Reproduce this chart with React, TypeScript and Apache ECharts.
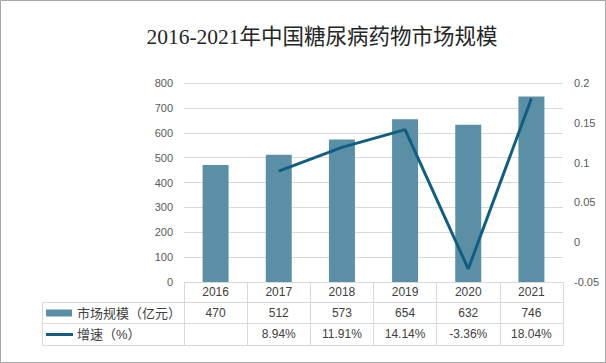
import React, { useEffect, useRef } from "react";
import * as echarts from "echarts";

const titleText = "2016-2021年中国糖尿病药物市场规模";
const years = ["2016", "2017", "2018", "2019", "2020", "2021"];
const marketSize = [470, 512, 573, 654, 632, 746];
const growthPct: (number | null)[] = [null, 8.94, 11.91, 14.14, -3.36, 18.04];
const barName = "市场规模（亿元）";
const lineName = "增速（%）";

const BAR_COLOR = "#5b8fa6";
const LINE_COLOR = "#135e80";
const GRID_COLOR = "#d9d9d9";
const SANS = "'Liberation Sans', 'Noto Sans CJK SC', sans-serif";

export default function App() {
  const ref = useRef<HTMLDivElement>(null);
  useEffect(() => {
    if (!ref.current) return;
    const chart = echarts.init(ref.current, undefined, { renderer: "svg" });
    const W = 606;
    const gridLeft = 184;
    const gridRight = 563;
    const axisY = 282;
    const tableLeft = 42;
    const row1 = 302.5;
    const row2 = 323.5;
    const row3 = 345.5;
    const tableLabel = {
      margin: 4,
      fontSize: 12,
      color: "#404040",
      fontFamily: SANS,
      interval: 0,
    };
    chart.setOption({
      animation: false,
      grid: { left: gridLeft, right: W - gridRight, top: 83, bottom: 363 - axisY },
      xAxis: [
        {
          type: "category",
          data: years,
          position: "bottom",
          axisLine: { show: true, lineStyle: { color: GRID_COLOR, width: 1 } },
          axisTick: { show: true, length: 63, lineStyle: { color: GRID_COLOR } },
          axisLabel: tableLabel,
        },
        {
          type: "category",
          data: marketSize.map((v) => String(v)),
          position: "bottom",
          offset: 21,
          axisLine: { show: false },
          axisTick: { show: false },
          axisLabel: tableLabel,
        },
        {
          type: "category",
          data: growthPct.map((v) => (v == null ? "" : v.toFixed(2) + "%")),
          position: "bottom",
          offset: 42,
          axisLine: { show: false },
          axisTick: { show: false },
          axisLabel: tableLabel,
        },
      ],
      yAxis: [
        {
          type: "value",
          min: 0,
          max: 800,
          interval: 100,
          axisLine: { show: false },
          axisTick: { show: false },
          splitLine: { show: true, lineStyle: { color: GRID_COLOR } },
          axisLabel: { margin: 11, fontSize: 11, color: "#595959", fontFamily: SANS },
        },
        {
          type: "value",
          min: -0.05,
          max: 0.2,
          interval: 0.05,
          position: "right",
          axisLine: { show: false },
          axisTick: { show: false },
          splitLine: { show: false },
          axisLabel: {
            margin: 11,
            fontSize: 11,
            color: "#595959",
            fontFamily: SANS,
            formatter: (v: number) => String(parseFloat(v.toFixed(2))),
          },
        },
      ],
      series: [
        {
          name: barName,
          type: "bar",
          xAxisIndex: 0,
          yAxisIndex: 0,
          data: marketSize,
          barWidth: 26,
          itemStyle: { color: BAR_COLOR },
        },
        {
          name: lineName,
          type: "line",
          xAxisIndex: 0,
          yAxisIndex: 1,
          data: growthPct.map((v) => (v == null ? null : v / 100)),
          symbol: "none",
          lineStyle: { color: LINE_COLOR, width: 3 },
          itemStyle: { color: LINE_COLOR },
        },
      ],
      graphic: [
        {
          type: "rect",
          shape: { x: 0.5, y: 0.5, width: W - 1, height: 362 },
          style: { fill: "none", stroke: "#a6a6a6", lineWidth: 1 },
          silent: true,
        },
        {
          type: "text",
          x: 322,
          y: 37,
          style: {
            text: titleText,
            fontSize: 21.5,
            fontFamily: "'Liberation Serif', 'Noto Sans CJK SC', serif",
            fill: "#262626",
            textAlign: "center",
            textVerticalAlign: "middle",
          },
        },
        ...[row1, row2, row3].map((y) => ({
          type: "line",
          shape: { x1: tableLeft, y1: y, x2: gridRight + 0.5, y2: y },
          style: { stroke: GRID_COLOR, lineWidth: 1 },
          silent: true,
        })),
        {
          type: "line",
          shape: { x1: tableLeft + 0.5, y1: row1, x2: tableLeft + 0.5, y2: row3 },
          style: { stroke: GRID_COLOR, lineWidth: 1 },
          silent: true,
        },
        {
          type: "rect",
          shape: { x: 46, y: 309.5, width: 26, height: 7 },
          style: { fill: BAR_COLOR },
        },
        {
          type: "text",
          x: 77,
          y: 313,
          style: {
            text: barName,
            fontSize: 13,
            fontFamily: SANS,
            fill: "#404040",
            textVerticalAlign: "middle",
          },
        },
        {
          type: "line",
          shape: { x1: 46, y1: 334.5, x2: 73, y2: 334.5 },
          style: { stroke: LINE_COLOR, lineWidth: 3 },
        },
        {
          type: "text",
          x: 77,
          y: 334,
          style: {
            text: lineName,
            fontSize: 13,
            fontFamily: SANS,
            fill: "#404040",
            textVerticalAlign: "middle",
          },
        },
      ],
    });
    return () => chart.dispose();
  }, []);
  return (
    <div
      ref={ref}
      style={{ position: "fixed", left: 0, top: 0, width: 606, height: 363, background: "#fff" }}
    />
  );
}
